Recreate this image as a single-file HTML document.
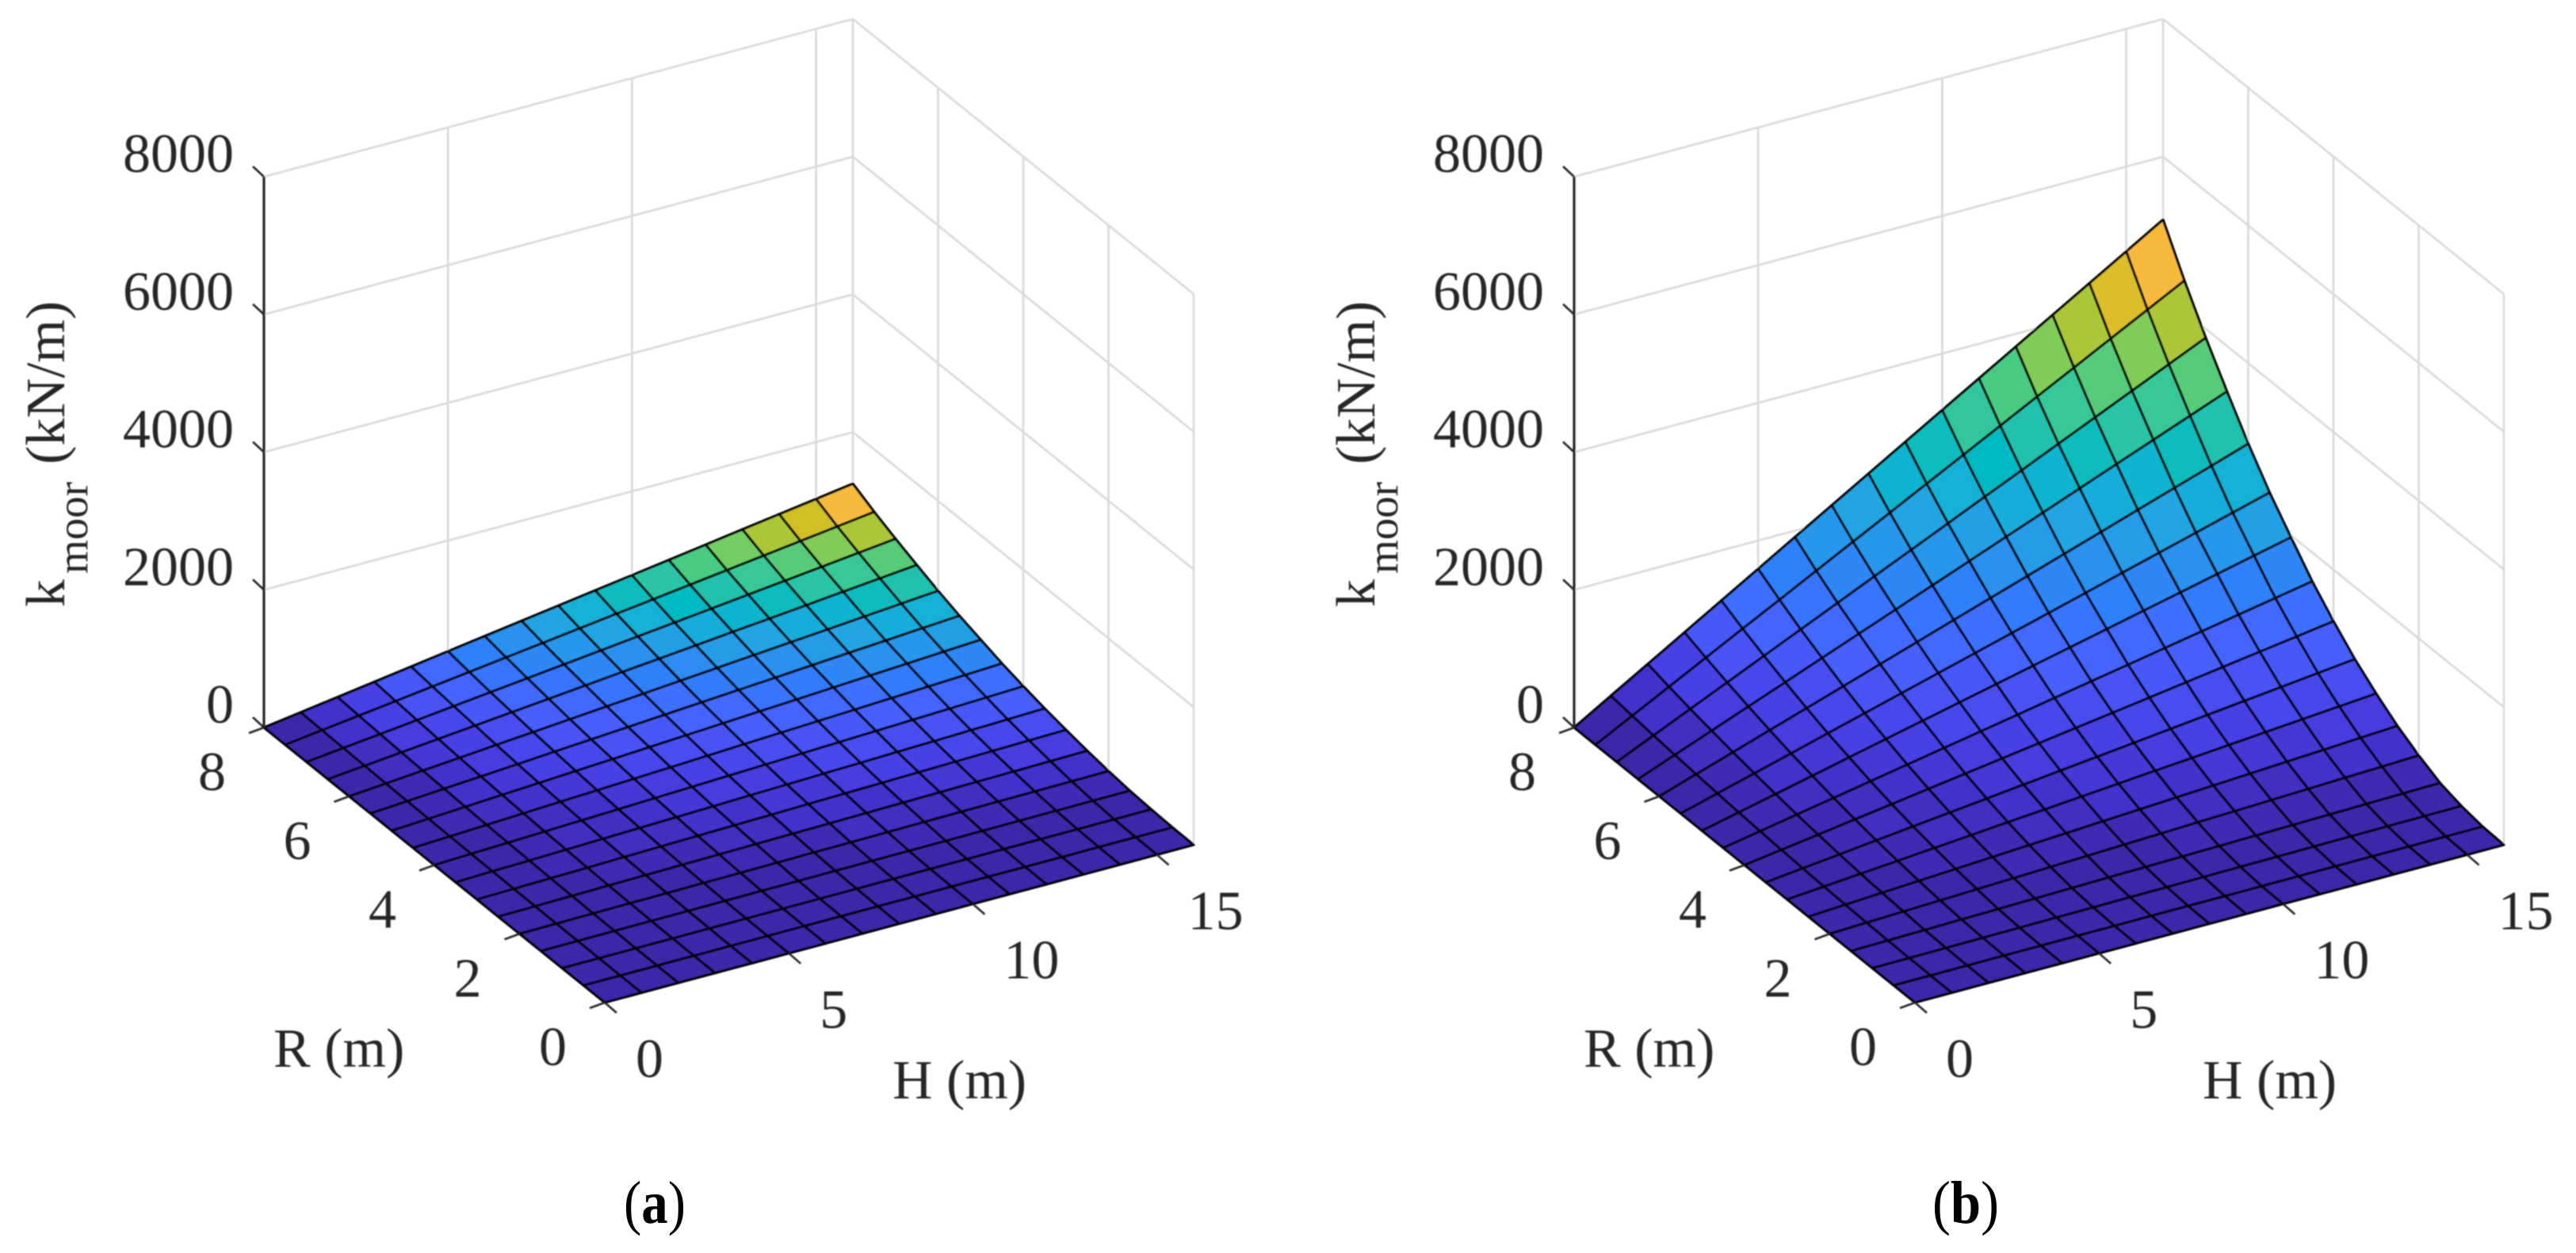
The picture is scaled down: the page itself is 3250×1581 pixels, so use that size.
<!DOCTYPE html>
<html lang="en">
<head>
<meta charset="utf-8">
<title>Mooring stiffness surfaces</title>
<style>
html,body{margin:0;padding:0;background:#fff;width:3250px;height:1581px;overflow:hidden}
svg{display:block}
text{font-family:"Liberation Serif",serif;fill:#262626}
.tick{font-size:70px}
.title{font-size:70px}
.cap{font-size:76px;fill:#000}
</style>
</head>
<body>
<svg id="figure" width="3250" height="1581" viewBox="0 0 3250 1581" xmlns="http://www.w3.org/2000/svg">
  <defs><filter id="soft" x="-5%" y="-5%" width="110%" height="110%"><feGaussianBlur stdDeviation="0.8"/></filter></defs>
  <rect width="3250" height="1581" fill="#fff"/>
  <g id="panel-a" filter="url(#soft)">
    <g id="layer-a"></g>
    <g transform="translate(81,766) rotate(-90)">
      <text class="title" x="0" y="0">k<tspan font-size="55" dx="7" dy="29">moor</tspan><tspan dx="22" dy="-29">(kN/m)</tspan></text>
    </g>
    <text class="title" x="345" y="1346">R (m)</text>
    <text class="title" x="1126" y="1386">H (m)</text>
  </g>
  <g id="panel-b" filter="url(#soft)">
    <g id="layer-b"></g>
    <g transform="translate(1734,766) rotate(-90)">
      <text class="title" x="0" y="0">k<tspan font-size="55" dx="7" dy="29">moor</tspan><tspan dx="22" dy="-29">(kN/m)</tspan></text>
    </g>
    <text class="title" x="1998" y="1346">R (m)</text>
    <text class="title" x="2779" y="1386">H (m)</text>
  </g>
  <text class="cap" x="787" y="1543" textLength="78" lengthAdjust="spacingAndGlyphs">(<tspan font-weight="bold">a</tspan>)</text>
  <text class="cap" x="2438" y="1543" textLength="84" lengthAdjust="spacingAndGlyphs">(<tspan font-weight="bold">b</tspan>)</text>
</svg>
<script>
const hValues = [0,1,2,3,4,5,6,7,8,9,10,11,12,13,14,15,16];
const rValues = [0,0.5,1,1.5,2,2.5,3,3.5,4,4.5,5,5.5,6,6.5,7,7.5,8];
const hTickLabels = [0,5,10,15];
const rTickLabels = [0,2,4,6,8];
const zTickLabels = [0,2000,4000,6000,8000];
const hLimits = [0,16];
const rLimits = [0,8];
const zLimits = [0,8000];

// k_moor in kN/m; rows follow rValues, columns follow hValues
const zValuesA = [
[0,0,0,0,0,0,0,0,0,0,0,0,0,0,0,0,0],
[0,0,1,1,1,1,2,2,2,2,3,3,3,3,4,4,4],
[0,1,2,3,4,5,6,7,8,9,10,11,12,13,14,15,16],
[0,2,5,7,9,12,14,16,19,21,23,25,28,30,32,35,37],
[0,5,9,14,18,23,27,32,37,41,46,50,55,59,64,68,73],
[0,7,15,22,30,37,44,52,59,66,74,81,89,96,103,111,118],
[0,11,22,32,43,54,65,75,86,97,108,118,129,140,151,161,172],
[0,15,29,44,58,73,87,102,117,131,146,160,175,189,204,218,233],
[0,19,38,57,77,96,115,134,153,172,191,210,230,249,268,287,306],
[0,24,48,73,97,121,145,169,194,218,242,266,290,314,339,363,387],
[0,30,60,91,121,151,181,211,242,272,302,332,362,392,423,453,483],
[0,36,73,109,145,182,218,254,291,327,363,399,436,472,508,545,581],
[0,43,87,130,174,217,260,304,347,390,434,477,521,564,607,651,694],
[0,51,102,154,205,256,307,358,410,461,512,563,614,665,717,768,819],
[0,59,119,178,237,297,356,415,475,534,593,652,712,771,830,890,949],
[0,68,136,205,273,341,409,477,546,614,682,750,818,886,955,1023,1091],
[0,78,156,234,313,391,469,547,625,703,781,859,938,1016,1094,1172,1250]
];
const zValuesB = [
[0,0,0,0,0,0,0,0,0,0,0,0,0,0,0,0,0],
[0,1,2,3,4,5,6,7,8,8,9,10,11,12,13,14,15],
[0,4,8,12,16,20,24,28,33,37,41,45,49,53,57,61,65],
[0,9,19,28,38,47,56,66,75,84,94,103,113,122,131,141,150],
[0,19,38,56,75,94,113,131,150,169,188,206,225,244,263,281,300],
[0,30,60,90,120,150,180,210,240,270,300,330,360,390,420,450,480],
[0,44,88,131,175,219,263,306,350,394,438,481,525,569,613,656,700],
[0,59,119,178,238,297,356,416,475,534,594,653,713,772,831,891,950],
[0,78,156,234,313,391,469,547,625,703,781,859,938,1016,1094,1172,1250],
[0,99,198,296,395,494,593,691,790,889,988,1086,1185,1284,1383,1481,1580],
[0,123,246,369,493,616,739,862,985,1108,1231,1354,1478,1601,1724,1847,1970],
[0,148,296,444,593,741,889,1037,1185,1333,1481,1629,1778,1926,2074,2222,2370],
[0,177,354,531,708,884,1061,1238,1415,1592,1769,1946,2123,2299,2476,2653,2830],
[0,209,418,626,835,1044,1253,1461,1670,1879,2088,2296,2505,2714,2923,3131,3340],
[0,242,484,726,968,1209,1451,1693,1935,2177,2419,2661,2903,3144,3386,3628,3870],
[0,278,556,834,1113,1391,1669,1947,2225,2503,2781,3059,3338,3616,3894,4172,4450],
[0,318,636,953,1271,1589,1907,2225,2543,2860,3178,3496,3814,4131,4449,4767,5085]
];

const parula = [
[0.2422,0.1504,0.6603],[0.2504,0.1650,0.7076],[0.2578,0.1818,0.7511],[0.2647,0.1978,0.7952],
[0.2706,0.2147,0.8364],[0.2751,0.2342,0.8710],[0.2783,0.2559,0.8991],[0.2803,0.2782,0.9221],
[0.2813,0.3006,0.9414],[0.2810,0.3228,0.9579],[0.2795,0.3447,0.9717],[0.2760,0.3667,0.9829],
[0.2699,0.3892,0.9906],[0.2602,0.4123,0.9952],[0.2440,0.4358,0.9988],[0.2206,0.4603,0.9973],
[0.1963,0.4847,0.9892],[0.1834,0.5074,0.9798],[0.1786,0.5289,0.9682],[0.1764,0.5499,0.9520],
[0.1687,0.5703,0.9359],[0.1540,0.5902,0.9218],[0.1460,0.6091,0.9079],[0.1380,0.6276,0.8973],
[0.1248,0.6459,0.8883],[0.1113,0.6635,0.8763],[0.0952,0.6798,0.8598],[0.0689,0.6948,0.8394],
[0.0297,0.7082,0.8163],[0.0036,0.7203,0.7917],[0.0067,0.7312,0.7660],[0.0433,0.7411,0.7394],
[0.0964,0.7500,0.7120],[0.1408,0.7584,0.6842],[0.1717,0.7670,0.6554],[0.1938,0.7758,0.6251],
[0.2161,0.7843,0.5923],[0.2470,0.7918,0.5567],[0.2906,0.7973,0.5188],[0.3406,0.8008,0.4789],
[0.3909,0.8029,0.4354],[0.4456,0.8024,0.3909],[0.5044,0.7993,0.3480],[0.5616,0.7942,0.3045],
[0.6174,0.7876,0.2612],[0.6720,0.7793,0.2227],[0.7242,0.7698,0.1910],[0.7738,0.7598,0.1646],
[0.8203,0.7498,0.1535],[0.8634,0.7406,0.1596],[0.9035,0.7330,0.1774],[0.9393,0.7288,0.2100],
[0.9728,0.7298,0.2394],[0.9956,0.7434,0.2371],[0.9970,0.7659,0.2199],[0.9952,0.7893,0.2028],
[0.9892,0.8136,0.1885],[0.9786,0.8386,0.1766],[0.9676,0.8639,0.1643],[0.9610,0.8890,0.1537],
[0.9597,0.9135,0.1423],[0.9628,0.9373,0.1265],[0.9691,0.9606,0.1064],[0.9769,0.9839,0.0805]
];

const NS = 'http://www.w3.org/2000/svg';
const GRID = '#d9d9d9';
const INK = '#262626';

function colorFor(v, vMax) {
  const idx = Math.min(parula.length - 1, Math.floor(v / vMax * parula.length));
  const c = parula[idx];
  return 'rgb(' + Math.round(c[0] * 255) + ',' + Math.round(c[1] * 255) + ',' + Math.round(c[2] * 255) + ')';
}

function makeAxes(dx) {
  // orthographic projection: corners of the floor in page pixels
  const leftX = 333 + dx, leftY = 918;
  const frontX = 763 + dx, frontY = 1265;
  const rightX = 1506 + dx, rightY = 1066;
  const zSpan = 695;
  return function project(h, r, z) {
    const hf = (h - hLimits[0]) / (hLimits[1] - hLimits[0]);
    const rf = (r - rLimits[0]) / (rLimits[1] - rLimits[0]);
    const zf = (z - zLimits[0]) / (zLimits[1] - zLimits[0]);
    return [
      frontX + hf * (rightX - frontX) + rf * (leftX - frontX),
      frontY + hf * (rightY - frontY) + rf * (leftY - frontY) - zf * zSpan
    ];
  };
}

function line(parent, p, q, color, width) {
  const el = document.createElementNS(NS, 'line');
  el.setAttribute('x1', p[0]);
  el.setAttribute('y1', p[1]);
  el.setAttribute('x2', q[0]);
  el.setAttribute('y2', q[1]);
  el.setAttribute('stroke', color);
  el.setAttribute('stroke-width', width);
  parent.appendChild(el);
  return el;
}

function label(parent, x, y, str, anchor) {
  const el = document.createElementNS(NS, 'text');
  el.setAttribute('class', 'tick');
  el.setAttribute('x', x);
  el.setAttribute('y', y);
  el.setAttribute('text-anchor', anchor);
  el.textContent = str;
  parent.appendChild(el);
  return el;
}

function drawPanel(layerId, dx, zValues) {
  const layer = document.getElementById(layerId);
  const project = makeAxes(dx);
  const hMax = hLimits[1], rMax = rLimits[1], zMax = zLimits[1];

  // back-wall grid
  zTickLabels.forEach(function (z) {
    const a = line(layer, project(0, rMax, z), project(hMax, rMax, z), GRID, 2.6);
    
    
    const b = line(layer, project(hMax, rMax, z), project(hMax, 0, z), GRID, 2.6);
    
    
  });
  hTickLabels.concat([hMax]).forEach(function (h) {
    if (h === 0) return;
    const el = line(layer, project(h, rMax, 0), project(h, rMax, zMax), GRID, 2.6);
    
    
  });
  rTickLabels.forEach(function (r) {
    if (r === rMax) return;
    const el = line(layer, project(hMax, r, 0), project(hMax, r, zMax), GRID, 2.6);
    
    
  });

  // surface, colour range follows the data
  let vMax = 0;
  zValues.forEach(function (row) { row.forEach(function (v) { vMax = Math.max(vMax, v); }); });
  for (let i = rValues.length - 2; i >= 0; i--) {
    for (let j = hValues.length - 2; j >= 0; j--) {
      const corners = [
        project(hValues[j], rValues[i], zValues[i][j]),
        project(hValues[j + 1], rValues[i], zValues[i][j + 1]),
        project(hValues[j + 1], rValues[i + 1], zValues[i + 1][j + 1]),
        project(hValues[j], rValues[i + 1], zValues[i + 1][j])
      ];
      const cell = document.createElementNS(NS, 'polygon');
      cell.setAttribute('points', corners.map(function (c) { return c[0].toFixed(1) + ',' + c[1].toFixed(1); }).join(' '));
      cell.setAttribute('fill', colorFor(zValues[i][j], vMax));
      cell.setAttribute('stroke', '#000');
      cell.setAttribute('stroke-width', '3.2');
      cell.setAttribute('stroke-linejoin', 'round');
      
      
      layer.appendChild(cell);
    }
  }

  // z axis
  const zAxis = line(layer, project(0, rMax, 0), project(0, rMax, zMax), INK, 3.2);
  
  

  // ticks and tick labels
  zTickLabels.forEach(function (z) {
    const p = project(0, rMax, z);
    const t = line(layer, p, [p[0] - 14, p[1] - 13], INK, 2.6);
    
    
    const l = label(layer, p[0] - 38, p[1] - 6, String(z), 'end');
    
    
  });
  rTickLabels.forEach(function (r) {
    const p = project(0, r, 0);
    const t = line(layer, p, [p[0] - 19, p[1] + 7], INK, 2.6);
    
    
    const l = label(layer, p[0] - 65.5, p[1] + 79, String(r), 'middle');
    
    
  });
  hTickLabels.forEach(function (h) {
    const p = project(h, 0, 0);
    const t = line(layer, p, [p[0] + 15, p[1] + 13], INK, 2.6);
    
    
    const l = label(layer, p[0] + 39, p[1] + 94, String(h), 'start');
    
    
  });
}

drawPanel('layer-a', 0, zValuesA);
drawPanel('layer-b', 1653, zValuesB);
</script>
</body>
</html>
